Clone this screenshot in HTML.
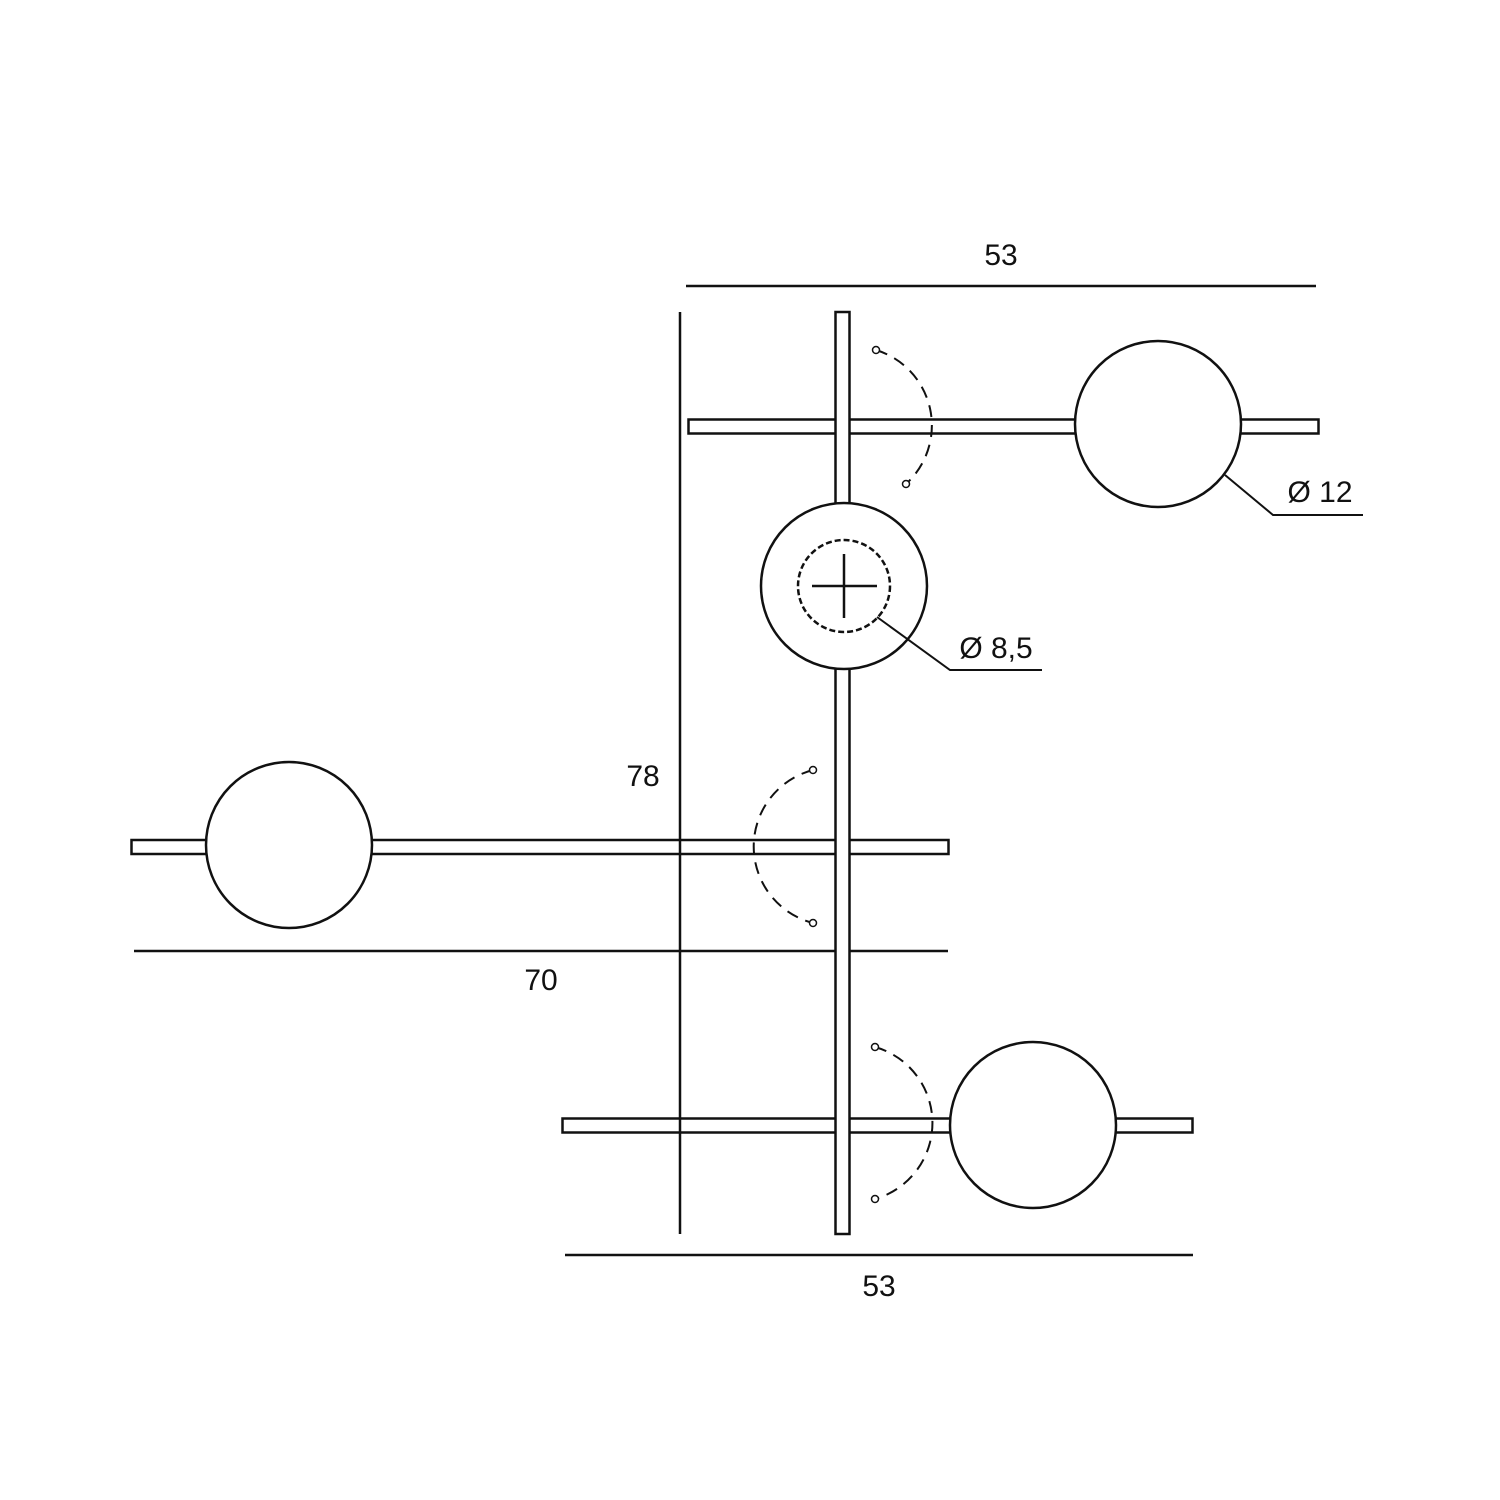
<!DOCTYPE html>
<html><head><style>html,body{margin:0;padding:0;background:#fff}svg{display:block}</style></head>
<body>
<svg width="1500" height="1500" viewBox="0 0 1500 1500" xmlns="http://www.w3.org/2000/svg">
<g fill="none" stroke="#111" stroke-width="2.5">
<!-- rods -->
<rect x="688.5" y="419.5" width="630" height="14" fill="#fff"/>
<rect x="131.5" y="840" width="817" height="14" fill="#fff"/>
<rect x="562.5" y="1118.5" width="630" height="14" fill="#fff"/>
<!-- dimension lines -->
<line x1="686" y1="286" x2="1316" y2="286"/>
<line x1="680" y1="312" x2="680" y2="1234"/>
<line x1="134" y1="951" x2="948" y2="951"/>
<line x1="565" y1="1255" x2="1193" y2="1255"/>
<!-- vertical bar -->
<rect x="835.5" y="312" width="14" height="922" fill="#fff"/>
<!-- globes -->
<circle cx="1158" cy="424" r="83" fill="#fff"/>
<circle cx="289" cy="845" r="83" fill="#fff"/>
<circle cx="1033" cy="1125" r="83" fill="#fff"/>
<!-- mount -->
<circle cx="844" cy="586" r="83" fill="#fff"/>
<circle cx="844" cy="586" r="46" stroke-dasharray="6,3"/>
<line x1="812" y1="586" x2="877" y2="586"/>
<line x1="844" y1="554" x2="844" y2="618"/>
<!-- dashed arcs -->
<path d="M876,350 A79,79 0 0 1 906,484" stroke-dasharray="12,8" stroke-width="2"/>
<path d="M813,770 A79,79 0 0 0 813,923" stroke-dasharray="12,8" stroke-width="2"/>
<path d="M875,1047 A79,79 0 0 1 875,1199" stroke-dasharray="12,8" stroke-width="2"/>
<g fill="#fff" stroke-width="1.5">
<circle cx="876" cy="350" r="3.5"/>
<circle cx="906" cy="484" r="3.5"/>
<circle cx="813" cy="770" r="3.5"/>
<circle cx="813" cy="923" r="3.5"/>
<circle cx="875" cy="1047" r="3.5"/>
<circle cx="875" cy="1199" r="3.5"/>
</g>
<!-- leaders -->
<polyline points="1225,475 1273,515 1363,515" stroke-width="2"/>
<polyline points="877,617 950,670 1042,670" stroke-width="2"/>
</g>
<g font-family="Liberation Sans, sans-serif" font-size="30" fill="#111" text-anchor="middle">
<text x="1001" y="265">53</text>
<text x="643" y="786">78</text>
<text x="541" y="990">70</text>
<text x="879" y="1296">53</text>
<text x="1320" y="502">Ø 12</text>
<text x="996" y="658">Ø 8,5</text>
</g>
</svg>
</body></html>
